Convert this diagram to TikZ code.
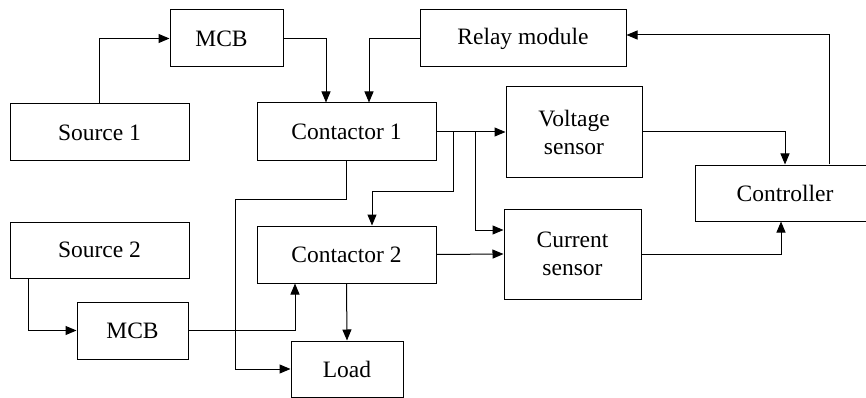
\documentclass[tikz,border=0pt]{standalone}
\usepackage{fontspec}
\setmainfont{Liberation Serif}
\usetikzlibrary{arrows.meta,calc}
\begin{document}
\begin{tikzpicture}[x=1pt,y=-1pt,
  blk/.style={draw,line width=1pt,minimum height=57pt,inner sep=0pt,align=center,
    font=\fontsize{23.5}{28}\selectfont},
  arr/.style={line width=1pt,-{Triangle[length=11pt,width=9pt]}},
  ln/.style={line width=1pt}]
\useasboundingbox (0,0) rectangle (866,398);
% blocks
\node[blk,minimum width=179pt] (src1) at (99.5,132.5) {Source 1};
\node[blk,minimum width=113pt] (mcb1) at (226.5,38.5) {MCB\hspace{10pt}};
\node[blk,minimum width=206pt] (relay) at (523,38.5) {Relay module};
\node[blk,minimum width=179pt,minimum height=58pt] (c1) at (346.5,132) {Contactor 1};
\node[blk,minimum width=136pt,minimum height=90pt] (vs) at (574,132) {Voltage\\sensor};
\node[blk,minimum width=180pt,minimum height=56pt] (ctrl) at (785,193) {Controller};
\node[blk,minimum width=179pt,minimum height=56pt] (src2) at (99.5,250) {Source 2};
\node[blk,minimum width=179pt] (c2) at (346.5,254.5) {Contactor 2};
\node[blk,minimum width=137pt,minimum height=90pt] (cs) at (572.5,254) {Current\\sensor};
\node[blk,minimum width=111pt] (mcb2) at (132.5,330.5) {MCB};
\node[blk,minimum width=112pt,minimum height=56pt] (load) at (347,369) {Load};
% junctions
\coordinate (b1) at (453,132);
\coordinate (b2) at (475,132);
\coordinate (j1) at (235,199);
\coordinate (j2) at (453,191);
% connectors
\draw[arr] (src1.north) |- (mcb1.west);
\draw[arr] (mcb1.east) -| ($(c1.north)+(-20.5,0)$);
\draw[arr] (relay.west) -| ($(c1.north)+(22.5,0)$);
\draw[arr] (c1.east) -- (vs.west);
\draw[arr] (b1) -- (j2) -| ($(c2.north)+(25.5,0)$);
\draw[arr] (b2) |- ($(cs.west)+(0,-24)$);
\draw[arr] (c2.east) -- (cs.west);
\draw[arr] (vs.east) -| (ctrl.north);
\draw[arr] (cs.east) -| ($(ctrl.south)+(-4,0)$);
\draw[arr] ($(ctrl.north)+(44,0)$) |- ($(relay.east)+(0,-3.5)$);
\draw[arr] (c1.south) |- (j1) |- (load.west);
\draw[arr] ($(src2.south west)+(19,0)$) |- (mcb2.west);
\draw[arr] (mcb2.east) -| ($(c2.south)+(-51.5,0)$);
\draw[arr] (c2.south) -- (load.north);
\end{tikzpicture}
\end{document}
